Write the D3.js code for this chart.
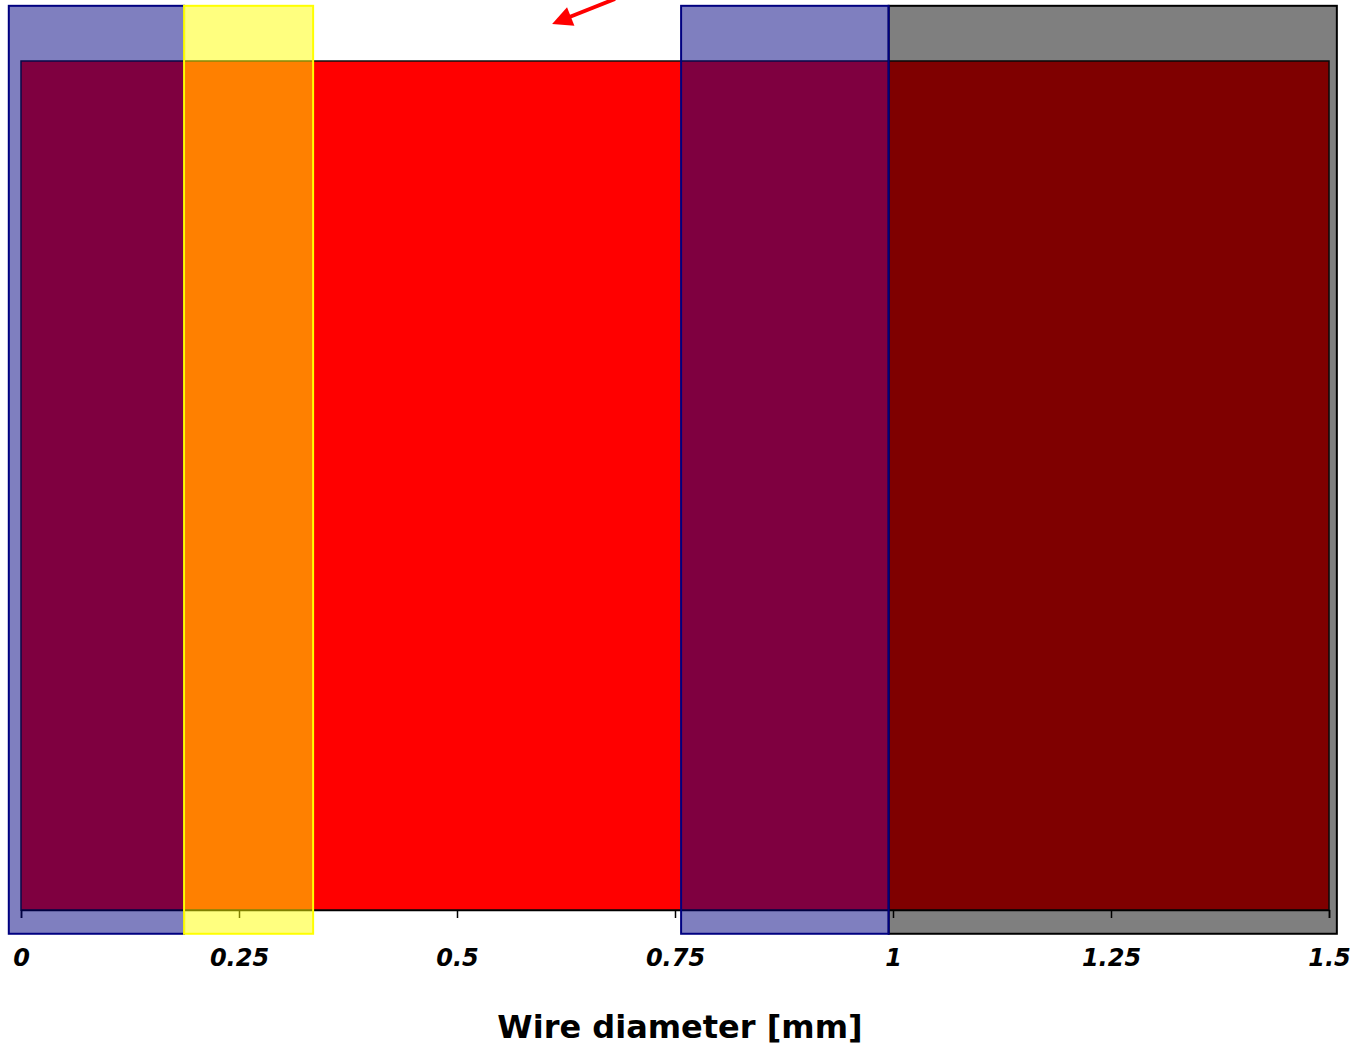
<!DOCTYPE html>
<html>
<head>
<meta charset="utf-8">
<script src="https://cdn.jsdelivr.net/npm/d3@7"></script>
<style>
  html, body { margin: 0; padding: 0; background: #fff; }
  svg { display: block; }
</style>
</head>
<body>
<svg id="chart" width="1353" height="1049"></svg>
<script>
// ---- data ----
const xTicks = [0, 0.25, 0.5, 0.75, 1, 1.25, 1.5];
const xTickLabels = ["0", "0.25", "0.5", "0.75", "1", "1.25", "1.5"];
const xTitle = "Wire diameter [mm]";

// main band (value area)
const bandStart = [0];
const bandEnd = [1.5];
const bandColor = ["#ff0000"];

// highlight regions (x in mm, y in relative units)
const regionStart = [0.995, -0.014, 0.187, 0.757];
const regionEnd   = [1.509, 0.187, 0.335, 0.995];
const regionFill  = ["#000000", "#000080", "#ffff00", "#000080"];
const regionStroke= ["#000000", "#000080", "#ffff00", "#000080"];
const regionTop = 1.065;
const regionBottom = -0.028;

// ---- layout ----
const svg = d3.select("#chart");
const mLeft = 21, mRight = 1329, mTop = 61, mBottom = 910;
const x = d3.scaleLinear().domain([0, 1.5]).range([mLeft, mRight]);
const y = d3.scaleLinear().domain([0, 1]).range([mBottom, mTop]);

// red band
svg.selectAll("rect.band").data(bandStart).join("rect")
  .attr("class", "band")
  .attr("x", (d) => x(d))
  .attr("width", (d, i) => x(bandEnd[i]) - x(d))
  .attr("y", y(1))
  .attr("height", y(0) - y(1))
  .attr("fill", (d, i) => bandColor[i])
  .attr("stroke", "#111")
  .attr("stroke-width", 1.5);

// axis
const axis = d3.axisBottom(x)
  .tickValues(xTicks)
  .tickFormat((d, i) => xTickLabels[i])
  .tickSize(8)
  .tickPadding(31);
const gAxis = svg.append("g").attr("transform", `translate(0,${mBottom})`).call(axis);
gAxis.select(".domain").attr("stroke", "#000").attr("stroke-width", 1.5);
gAxis.selectAll(".tick line").attr("stroke", "#000").attr("stroke-width", 1.5);
gAxis.selectAll(".tick text")
  .attr("fill", "#000")
  .style("font-family", "DejaVu Sans")
  .style("font-weight", "bold")
  .style("font-style", "italic")
  .style("font-size", "24px");

// overlays
svg.selectAll("rect.region").data(regionStart).join("rect")
  .attr("class", "region")
  .attr("x", (d) => x(d))
  .attr("width", (d, i) => x(regionEnd[i]) - x(d))
  .attr("y", y(regionTop))
  .attr("height", y(regionBottom) - y(regionTop))
  .attr("fill", (d, i) => regionFill[i])
  .attr("fill-opacity", 0.5)
  .attr("stroke", (d, i) => regionStroke[i])
  .attr("stroke-width", 2);

// arrow
const defs = svg.append("defs");
defs.append("marker")
  .attr("id", "ah")
  .attr("viewBox", "0 0 10 10")
  .attr("refX", 2).attr("refY", 5)
  .attr("markerWidth", 6).attr("markerHeight", 5)
  .attr("markerUnits", "strokeWidth")
  .attr("orient", "auto")
  .append("path").attr("d", "M0,0 L10,5 L0,10 Z").attr("fill", "#ff0000");
svg.append("line")
  .attr("x1", 615).attr("y1", -1)
  .attr("x2", 567).attr("y2", 18)
  .attr("stroke", "#ff0000")
  .attr("stroke-width", 4)
  .attr("marker-end", "url(#ah)");

// title
svg.append("text")
  .attr("x", 680).attr("y", 1038)
  .attr("text-anchor", "middle")
  .style("font-family", "DejaVu Sans")
  .style("font-weight", "bold")
  .style("font-size", "32px")
  .attr("fill", "#000")
  .text(xTitle);
</script>
</body>
</html>
